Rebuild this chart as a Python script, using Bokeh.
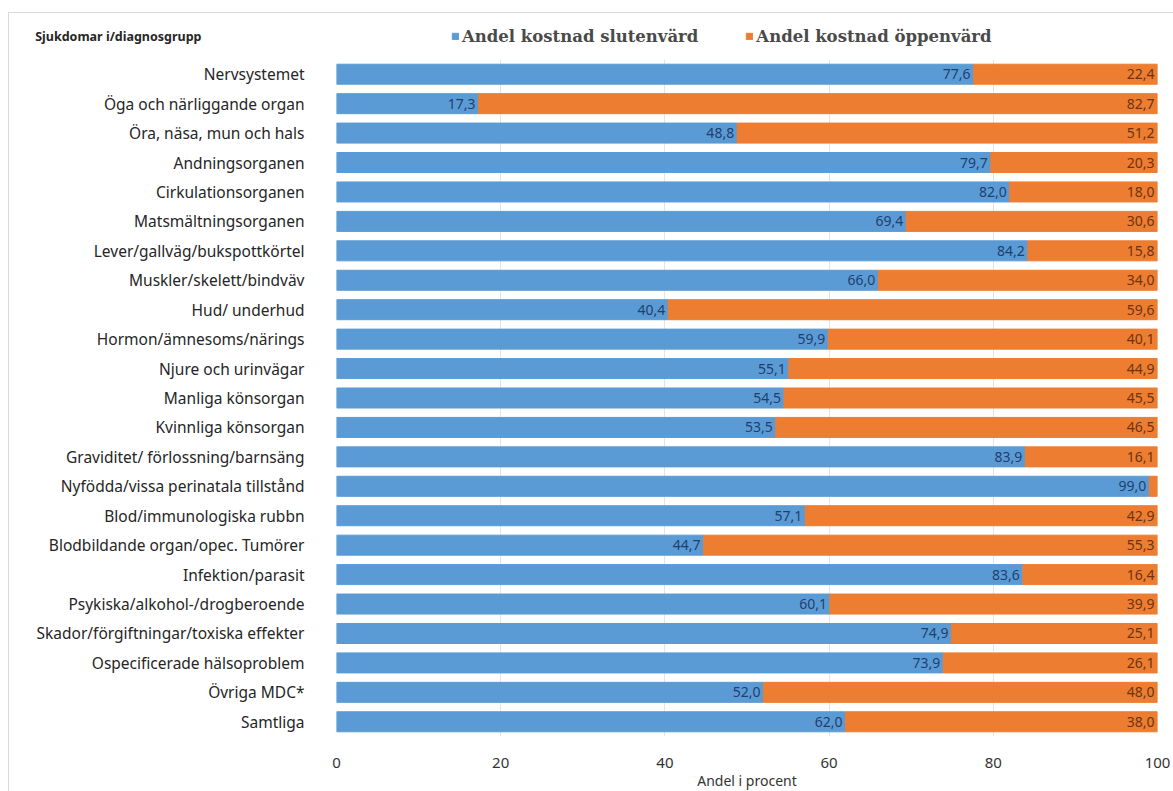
from bokeh.plotting import figure
from bokeh.models import ColumnDataSource, Legend, LegendItem, FixedTicker
from bokeh.layouts import column
from bokeh.core.properties import value
from bokeh.embed import file_html
from bokeh.resources import INLINE

categories = [
    "Nervsystemet", "Öga och närliggande organ", "Öra, näsa, mun och hals",
    "Andningsorganen", "Cirkulationsorganen", "Matsmältningsorganen",
    "Lever/gallväg/bukspottkörtel", "Muskler/skelett/bindväv", "Hud/ underhud",
    "Hormon/ämnesoms/närings", "Njure och urinvägar", "Manliga könsorgan",
    "Kvinnliga könsorgan", "Graviditet/ förlossning/barnsäng",
    "Nyfödda/vissa perinatala tillstånd", "Blod/immunologiska rubbn",
    "Blodbildande organ/opec. Tumörer", "Infektion/parasit",
    "Psykiska/alkohol-/drogberoende", "Skador/förgiftningar/toxiska effekter",
    "Ospecificerade hälsoproblem", "Övriga MDC*", "Samtliga",
]
slutenvard = [77.6, 17.3, 48.8, 79.7, 82.0, 69.4, 84.2, 66.0, 40.4, 59.9, 55.1, 54.5,
              53.5, 83.9, 99.0, 57.1, 44.7, 83.6, 60.1, 74.9, 73.9, 52.0, 62.0]
oppenvard = [22.4, 82.7, 51.2, 20.3, 18.0, 30.6, 15.8, 34.0, 59.6, 40.1, 44.9, 45.5,
             46.5, 16.1, 1.0, 42.9, 55.3, 16.4, 39.9, 25.1, 26.1, 48.0, 38.0]
x_ticks = [0, 20, 40, 60, 80, 100]
series_names = ["Andel kostnad slutenvärd", "Andel kostnad öppenvärd"]
header_text = "Sjukdomar i/diagnosgrupp"
x_title = "Andel i procent"

BLUE = "#5B9BD5"
ORANGE = "#ED7D31"
FONT = "Noto Sans"
W = 1165
LEFT = 327
RIGHT = 17

def fmt(v):
    return f"{v:.1f}".replace(".", ",")

total = [a + b for a, b in zip(slutenvard, oppenvard)]
src = ColumnDataSource(dict(
    cat=categories, slut=slutenvard, oppen=oppenvard, total=total,
    slut_lbl=[fmt(v) for v in slutenvard],
))
show_o = [i for i, v in enumerate(oppenvard) if v >= 5]
src_o = ColumnDataSource(dict(
    cat=[categories[i] for i in show_o],
    total=[total[i] for i in show_o],
    lbl=[fmt(oppenvard[i]) for i in show_o],
))

# ---- header strip (header text + legend) ----
TOP_H = 46
top = figure(width=W, height=TOP_H, x_range=(0, W - LEFT - RIGHT), y_range=(0, TOP_H),
             output_backend="svg", toolbar_location=None,
             min_border_left=LEFT, min_border_right=RIGHT,
             min_border_top=0, min_border_bottom=0)
top.xaxis.visible = False
top.grid.visible = False
top.outline_line_color = None
top.yaxis.ticker = FixedTicker(ticks=[TOP_H / 2])
top.yaxis.major_label_overrides = {TOP_H / 2: header_text}
top.yaxis.axis_line_color = None
top.yaxis.major_tick_line_color = None
top.yaxis.minor_tick_line_color = None
top.yaxis.major_label_standoff = 129
top.yaxis.major_label_text_font = FONT
top.yaxis.major_label_text_font_size = "12.5px"
top.yaxis.major_label_text_font_style = "bold"
top.yaxis.major_label_text_color = "#262626"

d1 = top.hbar(y=[-50], left=[0], right=[1], height=1, color=BLUE)
d2 = top.hbar(y=[-50], left=[0], right=[1], height=1, color=ORANGE)
legend = Legend(items=[LegendItem(label=series_names[0], renderers=[d1]),
                       LegendItem(label=series_names[1], renderers=[d2])],
                orientation="horizontal", location=(115, 13),
                background_fill_alpha=0, border_line_color=None,
                glyph_width=8, glyph_height=8, spacing=47, padding=0, margin=0,
                label_text_font="DejaVu Serif", label_text_font_style="bold",
                label_text_font_size="16.5px", label_text_color="#4a4a4a",
                label_standoff=3, label_height=20)
top.add_layout(legend, "center")

# ---- main chart ----
p = figure(width=W, height=733, y_range=list(reversed(categories)), x_range=(0, 100),
           output_backend="svg", toolbar_location=None, min_border_left=LEFT,
           min_border_right=RIGHT, min_border_top=0, min_border_bottom=51)

p.outline_line_color = None
p.ygrid.grid_line_color = None
p.xgrid.grid_line_color = "#e4e4e4"
p.xaxis.ticker = FixedTicker(ticks=x_ticks)
p.xaxis.axis_line_color = None
p.xaxis.major_tick_line_color = None
p.xaxis.minor_tick_line_color = None
p.xaxis.major_label_standoff = 15
p.xaxis.major_label_text_font = FONT
p.xaxis.major_label_text_font_size = "15px"
p.xaxis.major_label_text_color = "#333333"
p.xaxis.axis_label = x_title
p.xaxis.axis_label_text_font = FONT
p.xaxis.axis_label_text_font_style = "normal"
p.xaxis.axis_label_text_font_size = "14px"
p.xaxis.axis_label_text_color = "#333333"
p.xaxis.axis_label_standoff = 0

p.yaxis.axis_line_color = None
p.yaxis.major_tick_line_color = None
p.yaxis.minor_tick_line_color = None
p.yaxis.major_label_standoff = 26
p.yaxis.major_label_text_font = FONT
p.yaxis.major_label_text_font_size = "15.5px"
p.yaxis.major_label_text_color = "#262626"

p.hbar(y="cat", left=0, right="slut", height=0.68, color=BLUE, source=src)
p.hbar(y="cat", left="slut", right="total", height=0.68, color=ORANGE, source=src)

p.text(x="slut", y="cat", text="slut_lbl", source=src, text_align="right",
       text_baseline="middle", x_offset=-3, text_font_size="14px",
       text_color="#1F3F6E", text_font=value(FONT))
p.text(x="total", y="cat", text="lbl", source=src_o, text_align="right",
       text_baseline="middle", x_offset=-3, text_font_size="14px",
       text_color="#6E3410", text_font=value(FONT))

layout = column(top, p, spacing=0, margin=(12, 0, 0, 8),
                styles={"border-top": "1px solid #d9d9d9", "border-left": "1px solid #d9d9d9"})

open("out.html", "w").write(file_html(layout, INLINE))
